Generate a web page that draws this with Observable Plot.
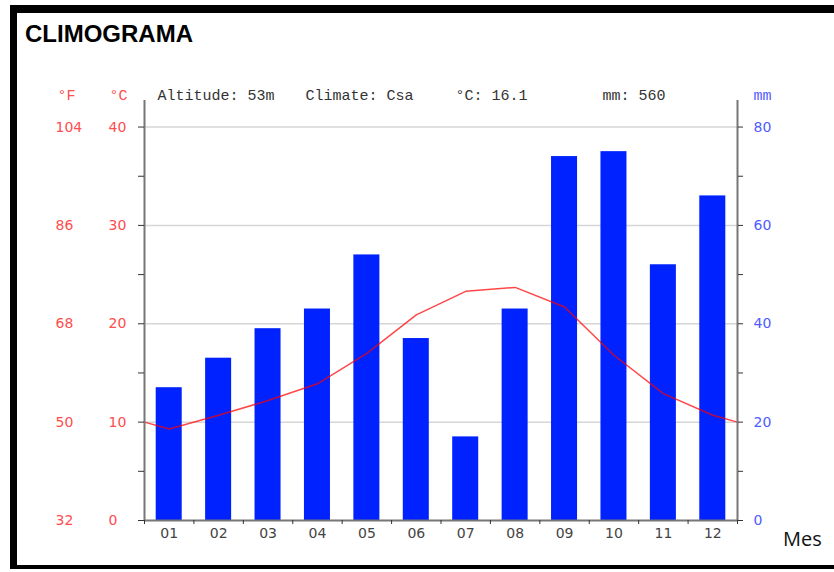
<!DOCTYPE html>
<html>
<head>
<meta charset="utf-8">
<script src="https://cdn.jsdelivr.net/npm/d3@7"></script>
<script src="https://cdn.jsdelivr.net/npm/@observablehq/plot@0.6"></script>
<style>
html, body { margin: 0; padding: 0; background: #fff; }
#page { position: relative; width: 834px; height: 572px; overflow: hidden; background: #fff; }
#frame { position: absolute; left: 10px; top: 5px; width: 824px; height: 564px; box-sizing: border-box;
  border-top: 8px solid #000; border-left: 7px solid #000; border-bottom: 4px solid #000; z-index: 2; pointer-events: none; }
#title { position: absolute; left: 25px; top: 19.7px; line-height: 1; font: bold 24px "Liberation Sans", Arial, sans-serif; color: #000; z-index: 3; }
#chart { position: absolute; left: 0; top: 60px; z-index: 1; }
#mes { position: absolute; left: 783px; top: 525px; line-height: 1; font: 20px "Open Sans", sans-serif; color: #111; z-index: 3; }
</style>
</head>
<body>
<div id="page">
  <div id="frame"></div>
  <div id="title">CLIMOGRAMA</div>
  <div id="chart"></div>
  <div id="mes">Mes</div>
</div>
<script>
// ---- data ----
const months = ["01", "02", "03", "04", "05", "06", "07", "08", "09", "10", "11", "12"];
const precipMm = [27, 33, 39, 43, 54, 37, 17, 43, 74, 75, 52, 66];
const tempC = [9.3, 10.7, 12.2, 13.9, 17.0, 20.9, 23.3, 23.7, 21.7, 16.8, 12.9, 10.7];
const tempAtEdges = 10.0; // value where the curve meets both side axes
const tempTicksC = [0, 10, 20, 30, 40];
const tempTicksF = ["32", "50", "68", "86", "104"];
const precipTicks = [0, 20, 40, 60, 80];
const headerItems = ["Altitude: 53m", "Climate: Csa", "°C: 16.1", "mm: 560"];
const unitLabels = ["°F", "°C", "mm"];

// ---- build tables ----
const bars = months.map((m, i) => ({ idx: i + 1, month: m, mm: precipMm[i] }));
const curve = [{ idx: 0.5, t: tempAtEdges }]
  .concat(tempC.map((t, i) => ({ idx: i + 1, t })))
  .concat([{ idx: 12.5, t: tempAtEdges }]);

const yTop = 42.7;          // axis lines run a little above 40 °C
const mmToC = v => v / 2;   // climograph convention: 2 mm ↔ 1 °C
const red = "#ff4d4d";
const blue = "#4f5cff";
const mono = "Liberation Mono, Courier New, monospace";
const sans = "DejaVu Sans, Verdana, sans-serif";

const chart = Plot.plot({
  width: 834,
  height: 500,
  marginLeft: 144,
  marginRight: 97,
  marginTop: 40,
  marginBottom: 40,
  x: { domain: [0.5, 12.5], label: null },
  y: { domain: [0, yTop], label: null },
  style: { background: "transparent", fontFamily: sans, fontSize: "14px", overflow: "visible" },
  marks: [
    Plot.ruleY(tempTicksC.filter(d => d > 0), { stroke: "#d6d6d6", strokeWidth: 1.5 }),
    Plot.rectY(bars, {
      x1: d => d.idx - 0.5, x2: d => d.idx + 0.5, y1: 0, y2: d => mmToC(d.mm),
      insetLeft: 11.7, insetRight: 11.7, fill: "#0022ff"
    }),
    Plot.line(curve, { x: "idx", y: "t", stroke: "#ff0000", strokeOpacity: 0.72, strokeWidth: 1.5 }),
    Plot.ruleX([0.5, 12.5], { y1: 0, y2: yTop, stroke: "#777", strokeWidth: 2 }),
    Plot.ruleY([0], { x1: 0.5, x2: 12.5, stroke: "#777", strokeWidth: 2 }),
    // tick marks
    Plot.axisY({ anchor: "left", ticks: d3.range(0, 41, 5), tickSize: 6, tickFormat: () => "", stroke: "#333", label: null }),
    Plot.axisY({ anchor: "right", ticks: d3.range(0, 41, 5), tickSize: 5, tickFormat: () => "", stroke: "#333", label: null }),
    Plot.axisX({ ticks: d3.range(0.5, 13, 1), tickSize: 4, tickFormat: () => "", stroke: "#333", label: null }),
    // °C labels
    Plot.axisY({ anchor: "left", ticks: tempTicksC, tickSize: 0, tickPadding: 36, textAnchor: "start",
      tickFormat: d => String(d), fill: red, fontSize: 14, fontFamily: sans, label: null }),
    // °F labels
    Plot.text(tempTicksC, { y: d => d, text: (d, i) => tempTicksF[i], frameAnchor: "left", dx: -89,
      textAnchor: "start", fill: red, fontSize: 14, fontFamily: sans }),
    // mm labels
    Plot.axisY({ anchor: "right", ticks: precipTicks.map(mmToC), tickSize: 0, tickPadding: 16, textAnchor: "start",
      tickFormat: d => String(d * 2), fill: blue, fontSize: 14, fontFamily: sans, label: null }),
    // month labels
    Plot.axisX({ ticks: d3.range(1, 13), tickSize: 0, tickPadding: 8, tickFormat: d => months[d - 1],
      fill: "#444", fontSize: 14, fontFamily: sans, label: null }),
    // unit labels above axes
    Plot.text([unitLabels[0]], { text: d => d, frameAnchor: "top-left", dx: -87, dy: -1, lineAnchor: "bottom",
      textAnchor: "start", fill: red, fontSize: 15, fontFamily: mono }),
    Plot.text([unitLabels[1]], { text: d => d, frameAnchor: "top-left", dx: -35, dy: -1, lineAnchor: "bottom",
      textAnchor: "start", fill: red, fontSize: 15, fontFamily: mono }),
    Plot.text([unitLabels[2]], { text: d => d, frameAnchor: "top-right", dx: 16, dy: -1, lineAnchor: "bottom",
      textAnchor: "start", fill: blue, fontSize: 15, fontFamily: mono }),
    // header line
    Plot.text([headerItems[0]], { text: d => d, frameAnchor: "top-left", dx: 13, dy: -1, lineAnchor: "bottom",
      textAnchor: "start", fill: "#333", fontSize: 15, fontFamily: mono }),
    Plot.text([headerItems[1]], { text: d => d, frameAnchor: "top-left", dx: 161, dy: -1, lineAnchor: "bottom",
      textAnchor: "start", fill: "#333", fontSize: 15, fontFamily: mono }),
    Plot.text([headerItems[2]], { text: d => d, frameAnchor: "top-left", dx: 311, dy: -1, lineAnchor: "bottom",
      textAnchor: "start", fill: "#333", fontSize: 15, fontFamily: mono }),
    Plot.text([headerItems[3]], { text: d => d, frameAnchor: "top-left", dx: 458, dy: -1, lineAnchor: "bottom",
      textAnchor: "start", fill: "#333", fontSize: 15, fontFamily: mono })
  ]
});
document.getElementById("chart").appendChild(chart);
</script>
</body>
</html>
